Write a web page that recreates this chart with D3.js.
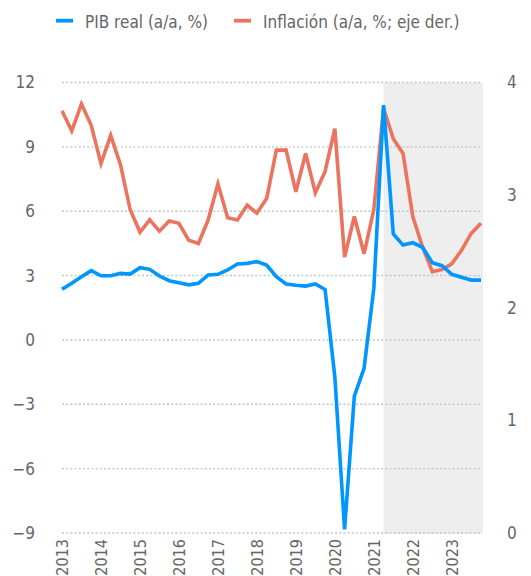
<!DOCTYPE html>
<html>
<head>
<meta charset="utf-8">
<script src="https://cdn.jsdelivr.net/npm/d3@7"></script>
<style>
  html, body { margin: 0; padding: 0; background: #fff; }
  svg { display: block; }
  text { font-family: "Liberation Sans Narrow", "DejaVu Sans Condensed", Roboto, sans-serif; }
</style>
</head>
<body>
<svg id="chart" width="531" height="576"></svg>
<script>
// ---- data ----
const quarters = [
  "2013T1","2013T2","2013T3","2013T4","2014T1","2014T2","2014T3","2014T4",
  "2015T1","2015T2","2015T3","2015T4","2016T1","2016T2","2016T3","2016T4",
  "2017T1","2017T2","2017T3","2017T4","2018T1","2018T2","2018T3","2018T4",
  "2019T1","2019T2","2019T3","2019T4","2020T1","2020T2","2020T3","2020T4",
  "2021T1","2021T2","2021T3","2021T4","2022T1","2022T2","2022T3","2022T4",
  "2023T1","2023T2","2023T3","2023T4"
];
// PIB real (a/a, %) - left axis
const gdp = [
  2.36, 2.64, 2.95, 3.23, 2.99, 2.99, 3.10, 3.07,
  3.37, 3.29, 2.98, 2.76, 2.67, 2.57, 2.64, 3.03,
  3.06, 3.26, 3.54, 3.57, 3.65, 3.49, 2.95, 2.61,
  2.55, 2.51, 2.61, 2.35, -1.72, -8.83, -2.62, -1.32,
  2.40, 10.95, 4.94, 4.42, 4.53, 4.32, 3.60, 3.46,
  3.06, 2.92, 2.79, 2.79
];
// Inflación (a/a, %) - right axis
const inflation = [
  3.75, 3.57, 3.81, 3.62, 3.28, 3.53, 3.27, 2.87,
  2.67, 2.78, 2.68, 2.77, 2.75, 2.60, 2.57, 2.78,
  3.10, 2.80, 2.78, 2.91, 2.84, 2.97, 3.40, 3.40,
  3.03, 3.37, 3.02, 3.21, 3.59, 2.45, 2.81, 2.48,
  2.87, 3.77, 3.50, 3.37, 2.81, 2.54, 2.32, 2.34,
  2.39, 2.51, 2.66, 2.75
];
const leftTicks = [12, 9, 6, 3, 0, -3, -6, -9];
const rightTicks = [4, 3, 2, 1, 0];
const yearTicks = [2013, 2014, 2015, 2016, 2017, 2018, 2019, 2020, 2021, 2022, 2023];
const forecastStart = "2021T2";
const seriesNames = ["PIB real (a/a, %)", "Inflación (a/a, %; eje der.)"];
const colors = ["#0096FF", "#EC735E"];

// ---- helpers ----
const qToNum = q => +q.slice(0, 4) + (+q.slice(5) - 1) / 4;

const svg = d3.select("#chart");
const plot = { left: 62, right: 481, top: 82.5, bottom: 533 };

const x = d3.scaleLinear().domain([qToNum(quarters[0]), qToNum(quarters[quarters.length - 1])])
  .range([plot.left, plot.right]);
const yL = d3.scaleLinear().domain([-9, 12]).range([plot.bottom, plot.top]);
const yR = d3.scaleLinear().domain([0, 4]).range([plot.bottom, plot.top]);

const textColor = "#666666";

// shaded forecast area
svg.append("rect")
  .attr("x", x(qToNum(forecastStart)))
  .attr("y", plot.top)
  .attr("width", plot.right + 2 - x(qToNum(forecastStart)))
  .attr("height", plot.bottom - plot.top + 1)
  .attr("fill", "#eeeeee");

// gridlines
svg.append("g").selectAll("line").data(leftTicks).join("line")
  .attr("x1", plot.left).attr("x2", plot.right + 1)
  .attr("y1", d => yL(d)).attr("y2", d => yL(d))
  .attr("stroke", "#c4c4c4").attr("stroke-width", 1.4)
  .attr("stroke-dasharray", "2,2.2");

// left axis
const axL = svg.append("g").attr("transform", `translate(${plot.left},0)`)
  .call(d3.axisLeft(yL).tickValues(leftTicks).tickSize(0).tickPadding(27).tickFormat(d3.format("d")));
axL.select(".domain").remove();
axL.selectAll("text").attr("fill", textColor).style("font-size", "17px");

// right axis
const axR = svg.append("g").attr("transform", `translate(${plot.right},0)`)
  .call(d3.axisRight(yR).tickValues(rightTicks).tickSize(0).tickPadding(26).tickFormat(d3.format("d")));
axR.select(".domain").remove();
axR.selectAll("text").attr("fill", textColor).style("font-size", "17px");

// bottom axis (rotated labels)
const axB = svg.append("g").attr("transform", `translate(0,${plot.bottom})`)
  .call(d3.axisBottom(x).tickValues(yearTicks).tickSize(0).tickFormat(d3.format("d")));
axB.select(".domain").remove();
axB.selectAll("text")
  .attr("fill", textColor).style("font-size", "16px")
  .attr("text-anchor", "end")
  .attr("dy", "0.35em")
  .attr("transform", "translate(0,6) rotate(-90)")
  .attr("x", 0).attr("y", 0);

// lines
const lineR = d3.line().x((d, i) => x(qToNum(quarters[i]))).y(d => yR(d));
const lineL = d3.line().x((d, i) => x(qToNum(quarters[i]))).y(d => yL(d));

svg.append("path").datum(inflation)
  .attr("d", lineR).attr("fill", "none")
  .attr("stroke", colors[1]).attr("stroke-width", 3.6);
svg.append("path").datum(gdp)
  .attr("d", lineL).attr("fill", "none")
  .attr("stroke", colors[0]).attr("stroke-width", 3.6);

// legend
const legend = svg.append("g");
const legItems = [
  { name: seriesNames[0], color: colors[0], x: 56 },
  { name: seriesNames[1], color: colors[1], x: 234 }
];
legItems.forEach(it => {
  legend.append("line")
    .attr("x1", it.x).attr("x2", it.x + 17)
    .attr("y1", 20.7).attr("y2", 20.7)
    .attr("stroke", it.color).attr("stroke-width", 3.8);
  legend.append("text")
    .attr("x", it.x + 29).attr("y", 22)
    .attr("dy", "0.35em")
    .attr("fill", textColor).style("font-size", "17px")
    .text(it.name);
});
</script>
</body>
</html>
